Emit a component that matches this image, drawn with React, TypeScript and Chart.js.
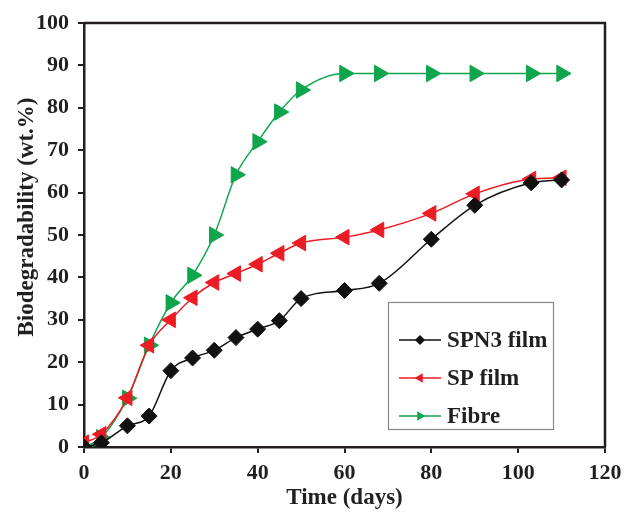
import React, { useEffect, useRef } from 'react';
import { Chart, registerables } from 'chart.js';

Chart.register(...registerables);

// ---- data ----
const days = [0, 4, 10, 15, 20, 25, 30, 35, 40, 45, 50, 60, 68, 80, 90, 103, 110];
const spn3Film = [0, 1, 5, 7.3, 18, 21, 22.8, 25.8, 27.8, 29.8, 35, 36.9, 38.6, 49, 57, 62.3, 63];
const spFilm = [1, 3, 11.6, 24, 30, 35.2, 38.8, 40.9, 43.1, 45.7, 48.1, 49.5, 51.2, 55.1, 59.7, 63.2, 63.5];
const fibre = [0, 2.2, 11.5, 24, 34, 40.5, 50, 64.2, 72, 79, 84.2, 88.1, 88.1, 88.1, 88.1, 88.1, 88.1];
const seriesNames = ['SPN3 film', 'SP film', 'Fibre'];
const xTitle = 'Time (days)';
const yTitle = 'Biodegradability (wt.%)';

const INK = '#231f20';
const BLACK = '#111111';
const RED = '#ec1c24';
const GREEN = '#0ea54d';
const FONT = "'Liberation Serif', 'Times New Roman', serif";

function drawMarker(ctx: CanvasRenderingContext2D, style: string, rotation: number, x: number, y: number, r: number) {
  ctx.beginPath();
  if (style === 'rectRot') {
    ctx.moveTo(x, y - r);
    ctx.lineTo(x + r, y);
    ctx.lineTo(x, y + r);
    ctx.lineTo(x - r, y);
  } else {
    let rad = (rotation * Math.PI) / 180;
    for (let k = 0; k < 3; k++) {
      const px = x + Math.sin(rad) * r;
      const py = y - Math.cos(rad) * r;
      if (k === 0) ctx.moveTo(px, py);
      else ctx.lineTo(px, py);
      rad += (2 * Math.PI) / 3;
    }
  }
  ctx.closePath();
  ctx.fill();
}

const framePlugin = {
  id: 'frame',
  afterDatasetsDraw(chart: any) {
    const { ctx, chartArea: a } = chart;
    ctx.save();
    ctx.strokeStyle = INK;
    ctx.lineWidth = 2.5;
    ctx.beginPath();
    ctx.moveTo(a.left, a.top);
    ctx.lineTo(a.right, a.top);
    ctx.lineTo(a.right, a.bottom);
    ctx.stroke();
    ctx.restore();
  },
};

const yTitlePlugin = {
  id: 'yTitle',
  afterDraw(chart: any) {
    const { ctx, chartArea: a } = chart;
    ctx.save();
    ctx.translate(a.left - 57, a.top + 194);
    ctx.rotate(-Math.PI / 2);
    ctx.fillStyle = INK;
    ctx.font = `bold 23px ${FONT}`;
    ctx.textAlign = 'center';
    ctx.textBaseline = 'middle';
    ctx.fillText(yTitle, 0, 0);
    ctx.restore();
  },
};

const legendPlugin = {
  id: 'boxLegend',
  afterDraw(chart: any) {
    const { ctx, chartArea: a } = chart;
    const x0 = a.left + 304;
    const y0 = a.top + 279;
    const w = 165;
    const h = 127;
    ctx.save();
    ctx.fillStyle = '#ffffff';
    ctx.fillRect(x0, y0, w, h);
    ctx.strokeStyle = '#8a8a8a';
    ctx.lineWidth = 1.2;
    ctx.strokeRect(x0 + 0.5, y0 + 0.5, w, h);
    chart.data.datasets.forEach((ds: any, i: number) => {
      const y = y0 + 38 + i * 38;
      ctx.strokeStyle = ds.borderColor;
      ctx.lineWidth = 1.5;
      ctx.beginPath();
      ctx.moveTo(x0 + 11, y);
      ctx.lineTo(x0 + 53, y);
      ctx.stroke();
      ctx.fillStyle = ds.pointBackgroundColor;
      drawMarker(ctx, ds.pointStyle, ds.pointRotation || 0, x0 + 32, y, ds.pointStyle === 'rectRot' ? 5 : 5.5);
      ctx.fillStyle = INK;
      ctx.font = `bold 23px ${FONT}`;
      ctx.textAlign = 'left';
      ctx.textBaseline = 'middle';
      ctx.fillText(ds.label, x0 + 59, y + 1);
    });
    ctx.restore();
  },
};

export default function App() {
  const ref = useRef<HTMLCanvasElement | null>(null);

  useEffect(() => {
    if (!ref.current) return;
    const mk = (label: string, data: number[], color: string, style: string, rot: number, r: number) => ({
      label,
      data: days.map((d, i) => ({ x: d, y: data[i] })),
      borderColor: color,
      backgroundColor: color,
      pointBackgroundColor: color,
      pointBorderColor: color,
      pointBorderWidth: 1,
      pointStyle: style,
      pointRotation: rot,
      pointRadius: r,
      borderWidth: 1.5,
      cubicInterpolationMode: 'monotone',
      fill: false,
    });
    const chart = new Chart(ref.current, {
      type: 'line',
      data: {
        datasets: [
          mk(seriesNames[0], spn3Film, BLACK, 'rectRot', 0, 8),
          mk(seriesNames[1], spFilm, RED, 'triangle', -90, 9),
          mk(seriesNames[2], fibre, GREEN, 'triangle', 90, 9.5),
        ] as any,
      },
      options: {
        responsive: false,
        animation: false,
        layout: { padding: { top: 23, right: 19, left: 0, bottom: 0 } },
        plugins: {
          legend: { display: false },
          tooltip: { enabled: false },
        },
        scales: {
          x: {
            type: 'linear',
            min: 0,
            max: 120,
            ticks: {
              stepSize: 20,
              color: INK,
              padding: 7,
              maxRotation: 0,
              font: { family: FONT, size: 22, weight: 'bold' },
            },
            grid: { display: true, drawOnChartArea: false, drawTicks: true, tickLength: 6, lineWidth: 2, color: INK },
            border: { display: true, width: 2.5, color: INK },
            title: {
              display: true,
              text: xTitle,
              color: INK,
              font: { family: FONT, size: 23, weight: 'bold' },
              padding: { top: 0, bottom: 1 },
            },
            afterFit: (s: any) => {
              s.height = 66;
              s.paddingRight = 0;
              s.paddingLeft = 0;
            },
          },
          y: {
            type: 'linear',
            min: 0,
            max: 100,
            ticks: {
              stepSize: 10,
              color: INK,
              padding: 9,
              font: { family: FONT, size: 22, weight: 'bold' },
            },
            grid: { display: true, drawOnChartArea: false, drawTicks: true, tickLength: 6, lineWidth: 2, color: INK },
            border: { display: true, width: 2.5, color: INK },
            afterFit: (s: any) => {
              s.width = 84;
              s.paddingTop = 0;
              s.paddingBottom = 0;
            },
          },
        },
      } as any,
      plugins: [framePlugin, yTitlePlugin, legendPlugin],
    });
    return () => chart.destroy();
  }, []);

  return (
    <div style={{ position: 'fixed', left: 0, top: 0, width: 624, height: 513, background: '#fff' }}>
      <canvas ref={ref} width={624} height={513} />
    </div>
  );
}
